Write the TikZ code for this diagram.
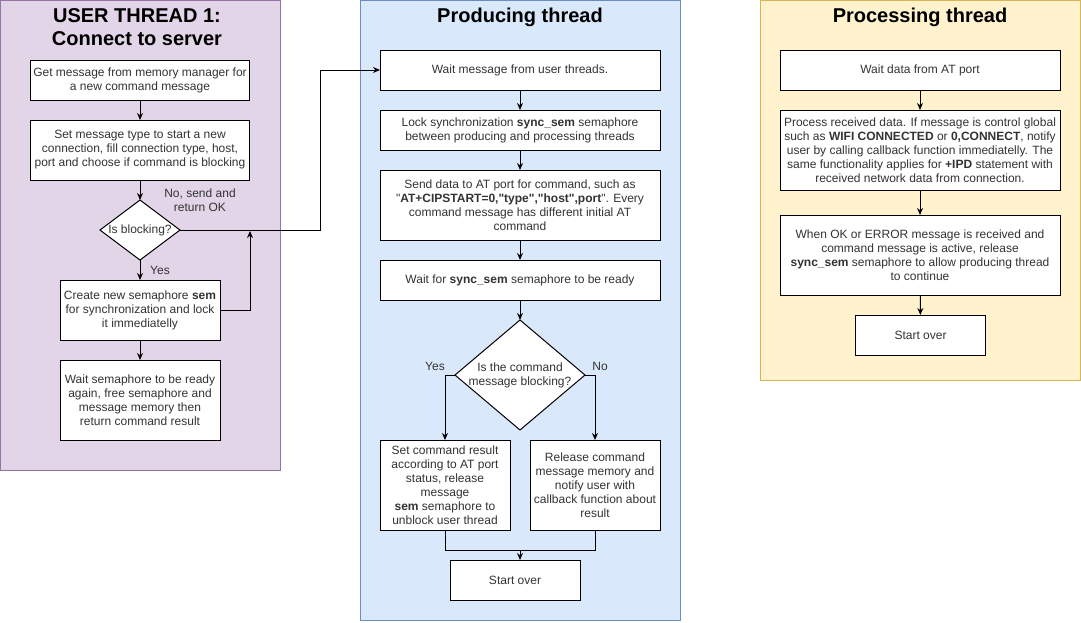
\documentclass[tikz,border=0pt]{standalone}
\usepackage{fontspec}
\setmainfont{Liberation Sans}[Ligatures=TeXOff]
\usetikzlibrary{shapes.geometric,arrows.meta}
\definecolor{purpfill}{HTML}{E1D5E7}
\definecolor{purpline}{HTML}{9673A6}
\definecolor{bluefill}{HTML}{DAE8FC}
\definecolor{blueline}{HTML}{6C8EBF}
\definecolor{yelfill}{HTML}{FFF2CC}
\definecolor{yelline}{HTML}{D6B656}
\definecolor{txtc}{HTML}{333333}
\begin{document}
\begin{tikzpicture}[x=1pt,y=-1pt,
 panel/.style={draw,line width=1pt,inner sep=0,outer sep=0,anchor=north west},
 box/.style={draw,fill=white,line width=1pt,inner sep=0,outer sep=0,align=center,text=txtc,font=\fontsize{12}{14}\selectfont},
 dia/.style={diamond,draw,fill=white,line width=1pt,inner sep=0,outer sep=0},
 lbl/.style={text=txtc,align=center,font=\fontsize{12}{14}\selectfont,inner sep=0},
 ttl/.style={font=\fontsize{20}{23}\selectfont\bfseries,inner sep=0,anchor=base},
 arr/.style={line width=1pt,-{Stealth[length=7pt,width=6pt]}},
 ln/.style={line width=1pt}]
\useasboundingbox (0,0) rectangle (1081,622);
% panels
\node[panel,fill=purpfill,draw=purpline,minimum width=279.5,minimum height=469.5] (p1) at (0.5,0.5) {};
\node[panel,fill=bluefill,draw=blueline,minimum width=320,minimum height=620] (p2) at (360.5,0.5) {};
\node[panel,fill=yelfill,draw=yelline,minimum width=320,minimum height=380] (p3) at (760.5,0.5) {};
% titles
\node[ttl] (t1a) at (137,22) {USER THREAD 1:};
\node[ttl] (t1b) at (137,45) {Connect to server};
\node[ttl] (t2) at (520,22) {Producing thread};
\node[ttl] (t3) at (920,22) {Processing thread};
% left column
\node[box,minimum width=219,minimum height=40] (b1) at (140,80) {Get message from memory manager for\\a new command message};
\node[box,minimum width=219,minimum height=60] (b2) at (140,150) {Set message type to start a new\\connection, fill connection type, host,\\port and choose if command is blocking};
\node[dia,minimum width=80,minimum height=60] (d1) at (140,230) {};
\node[lbl] (d1t) at (d1) {Is blocking?};
\node[box,minimum width=160,minimum height=60] (b3) at (140,310) {Create new semaphore \textbf{sem}\\for synchronization and lock\\it immediatelly};
\node[box,minimum width=160,minimum height=80] (b4) at (140,400) {Wait semaphore to be ready\\again, free semaphore and\\message memory then\\return command result};
\node[lbl] (lno) at (200,200) {No, send and\\return OK};
\node[lbl] (lyes) at (160,270) {Yes};
% middle column
\node[box,minimum width=280,minimum height=40] (m1) at (520,70) {Wait message from user threads.};
\node[box,minimum width=280,minimum height=40] (m2) at (520,130) {Lock synchronization \textbf{sync\_sem} semaphore\\between producing and processing threads};
\node[box,minimum width=280,minimum height=70] (m3) at (520,205) {Send data to AT port for command, such as\\"\textbf{AT+CIPSTART=0,"type","host",port}". Every\\command message has different initial AT\\command};
\node[box,minimum width=280,minimum height=40] (m4) at (520,280) {Wait for \textbf{sync\_sem} semaphore to be ready};
\node[dia,minimum width=130,minimum height=110] (d2) at (520,375) {};
\node[lbl] (d2t) at (d2) {Is the command\\message blocking?};
\node[lbl] (myes) at (435,366) {Yes};
\node[lbl] (mno) at (600,366) {No};
\node[box,minimum width=130,minimum height=90] (y1) at (445,485) {Set command result\\according to AT port\\status, release\\message\\\textbf{sem} semaphore to\\unblock user thread};
\node[box,minimum width=130,minimum height=90] (n1) at (595,485) {Release command\\message memory and\\notify user with\\callback function about\\result};
\node[box,minimum width=130,minimum height=40] (so) at (515,580) {Start over};
% right column
\node[box,minimum width=280,minimum height=40] (r1) at (920,70) {Wait data from AT port};
\node[box,minimum width=280,minimum height=80] (r2) at (920,150) {Process received data. If message is control global\\such as \textbf{WIFI CONNECTED} or \textbf{0,CONNECT}, notify\\user by calling callback function immediatelly. The\\same functionality applies for \textbf{+IPD} statement with\\received network data from connection.};
\node[box,minimum width=280,minimum height=80] (r3) at (920,255) {When OK or ERROR message is received and\\command message is active, release\\\textbf{sync\_sem} semaphore to allow producing thread\\to continue};
\node[box,minimum width=130,minimum height=40] (r4) at (920.5,335) {Start over};
% connectors left
\draw[arr] (b1) -- (b2);
\draw[arr] (b2) -- (d1);
\draw[arr] (d1) -- (b3);
\draw[arr] (b3) -- (b4);
\coordinate (j1) at (250,231);
\draw[arr] (b3.east) -| (j1);
\coordinate (c1) at (320,230);
\draw[arr] (d1.east) -- (c1) |- (m1.west);
% connectors middle
\draw[arr] (m1) -- (m2);
\draw[arr] (m2) -- (m3);
\draw[arr] (m3) -- (m4);
\draw[arr] (m4) -- (d2);
\draw[arr] (d2.west) -| (y1.north);
\draw[arr] (d2.east) -| (n1.north);
\coordinate (j2) at (520,550);
\draw[ln] (y1.south) |- (j2);
\draw[ln] (n1.south) |- (j2);
\draw[arr] (j2) -- (j2 |- so.north);
% connectors right
\draw[arr] (r1) -- (r2);
\draw[arr] (r2) -- (r3);
\draw[arr] (r3) -- (r4);
\end{tikzpicture}
\end{document}
